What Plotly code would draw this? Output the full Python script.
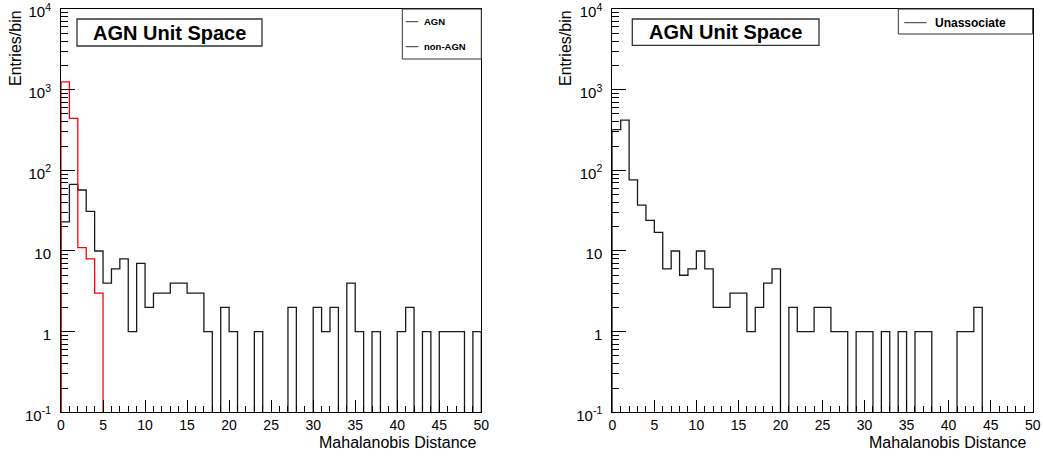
import plotly.graph_objects as go

# ---------------- data ----------------
bin_edges = list(range(0, 51))  # Mahalanobis distance, bin width 1

agn_counts = [1250, 440, 11, 8, 3] + [0] * 45

non_agn_counts = [23, 67, 57, 31, 10, 4, 6, 8, 1, 7,
                  2, 3, 3, 4, 4, 3, 3, 1, 0, 2,
                  1, 0, 0, 1, 0, 0, 0, 2, 0, 0,
                  2, 1, 2, 0, 4, 1, 0, 1, 0, 0,
                  1, 2, 0, 1, 0, 1, 1, 1, 0, 1]

unassoc_counts = [320, 420, 76, 37, 24, 17, 6, 10, 5, 6,
                  10, 6, 2, 2, 3, 3, 1, 2, 4, 6,
                  0, 2, 1, 1, 2, 2, 1, 1, 0, 1,
                  1, 0, 1, 0, 1, 0, 1, 1, 0, 0,
                  0, 1, 1, 2, 0, 0, 0, 0, 0, 0]

y_tick_vals = [0.1, 1, 10, 100, 1000, 10000]
y_tick_text = ["10<sup>-1</sup>", "1", "10", "10<sup>2</sup>", "10<sup>3</sup>", "10<sup>4</sup>"]
x_tick_vals = [0, 5, 10, 15, 20, 25, 30, 35, 40, 45, 50]

W, H = 1043, 457
FONT = "Liberation Sans, Arial, sans-serif"
FLOOR = 1e-4  # empty bins drop below the axis floor (as in ROOT log plots)


def px(x):
    return x / W


def py(y):
    return 1 - y / H


def step(counts):
    ys = [c if c > 0 else FLOOR for c in counts]
    xs = list(bin_edges)
    ys = ys + [ys[-1]]
    xs = [bin_edges[0]] + xs + [bin_edges[-1]]
    ys = [FLOOR] + ys + [FLOOR]
    return xs, ys


fig = go.Figure()

x, y = step(non_agn_counts)
fig.add_trace(go.Scatter(x=x, y=y, mode="lines", line=dict(color="#1a1a1a", width=1.3, shape="hv"),
                         xaxis="x", yaxis="y", showlegend=False, name="non-AGN"))
x, y = step(agn_counts)
fig.add_trace(go.Scatter(x=x, y=y, mode="lines", line=dict(color="#ff0000", width=1.3, shape="hv"),
                         xaxis="x", yaxis="y", showlegend=False, name="AGN"))
x, y = step(unassoc_counts)
fig.add_trace(go.Scatter(x=x, y=y, mode="lines", line=dict(color="#1a1a1a", width=1.3, shape="hv"),
                         xaxis="x2", yaxis="y2", showlegend=False, name="Unassociate"))

xaxis_common = dict(range=[0, 50], tickvals=x_tick_vals, ticks="inside", ticklen=12, tickwidth=1,
                    tickcolor="black", showline=True, mirror=True, linecolor="black", linewidth=1,
                    showgrid=False, zeroline=False, automargin=False, ticklabelstandoff=0,
                    ticklabeloverflow="allow",
                    minor=dict(dtick=1, ticks="inside", ticklen=6, tickcolor="black", showgrid=False),
                    tickfont=dict(family=FONT, size=14, color="black"))
yaxis_common = dict(type="log", range=[-1, 4], tickvals=y_tick_vals, ticktext=y_tick_text,
                    ticks="inside", ticklen=14, tickwidth=1, tickcolor="black",
                    showline=True, mirror=True, linecolor="black", linewidth=1,
                    showgrid=False, zeroline=False, ticklabelstandoff=6, automargin=False,
                    ticklabeloverflow="allow", ticklabelshift=3,
                    minor=dict(dtick="D1", ticks="inside", ticklen=7, tickcolor="black", showgrid=False),
                    tickfont=dict(family=FONT, size=15, color="black"))

fig.update_layout(
    width=W, height=H,
    margin=dict(l=0, r=0, t=0, b=0),
    paper_bgcolor="white", plot_bgcolor="white",
    xaxis=dict(domain=[px(61), px(481.3)], anchor="y", **xaxis_common),
    yaxis=dict(domain=[py(412.3), py(9)], anchor="x", **yaxis_common),
    xaxis2=dict(domain=[px(612.3), px(1032.7)], anchor="y2", **xaxis_common),
    yaxis2=dict(domain=[py(412.3), py(9)], anchor="x2", **yaxis_common),
)

shapes = []
annotations = []

# axis titles
for xr, xl in [(479, 16), (1029, 566)]:
    annotations.append(dict(x=px(xr), y=py(442), xref="paper", yref="paper", text="Mahalanobis Distance",
                            showarrow=False, xanchor="right", yanchor="middle",
                            font=dict(family=FONT, size=16, color="black")))
    annotations.append(dict(x=px(xl), y=py(8), xref="paper", yref="paper", text="Entries/bin",
                            showarrow=False, xanchor="center", yanchor="top", textangle=-90,
                            font=dict(family=FONT, size=16, color="black")))

# title boxes
for (x0, x1, y0, y1) in [(77, 262, 19, 46), (632.3, 819, 19, 45.3)]:
    shapes.append(dict(type="rect", xref="paper", yref="paper", x0=px(x0), x1=px(x1), y0=py(y1), y1=py(y0),
                       line=dict(color="#333333", width=1.3), fillcolor="white"))
    annotations.append(dict(x=px((x0 + x1) / 2), y=py((y0 + y1) / 2), xref="paper", yref="paper",
                            text="<b>AGN Unit Space</b>", showarrow=False, xanchor="center", yanchor="middle",
                            font=dict(family=FONT, size=20, color="black")))

# legends
legend_boxes = [
    (402.3, 481.3, 9, 59, [("AGN", 21.7), ("non-AGN", 46.7)], 405.7, 418.3, 421.7, 9.5),
    (898.3, 1032.7, 9, 34, [("Unassociate", 22.7)], 904.3, 926.7, 932.7, 12),
]
for x0, x1, y0, y1, entries, lx0, lx1, tx, fs in legend_boxes:
    shapes.append(dict(type="rect", xref="paper", yref="paper", x0=px(x0), x1=px(x1), y0=py(y1), y1=py(y0),
                       line=dict(color="#333333", width=1), fillcolor="white"))
    for label, yy in entries:
        shapes.append(dict(type="line", xref="paper", yref="paper", x0=px(lx0), x1=px(lx1), y0=py(yy), y1=py(yy),
                           line=dict(color="#333333", width=1)))
        annotations.append(dict(x=px(tx), y=py(yy), xref="paper", yref="paper", text="<b>%s</b>" % label,
                                showarrow=False, xanchor="left", yanchor="middle",
                                font=dict(family=FONT, size=fs, color="black")))

fig.update_layout(shapes=shapes, annotations=annotations)

fig.write_html("out.html", config={"displayModeBar": False},
               post_script="document.body.style.margin='0';")
